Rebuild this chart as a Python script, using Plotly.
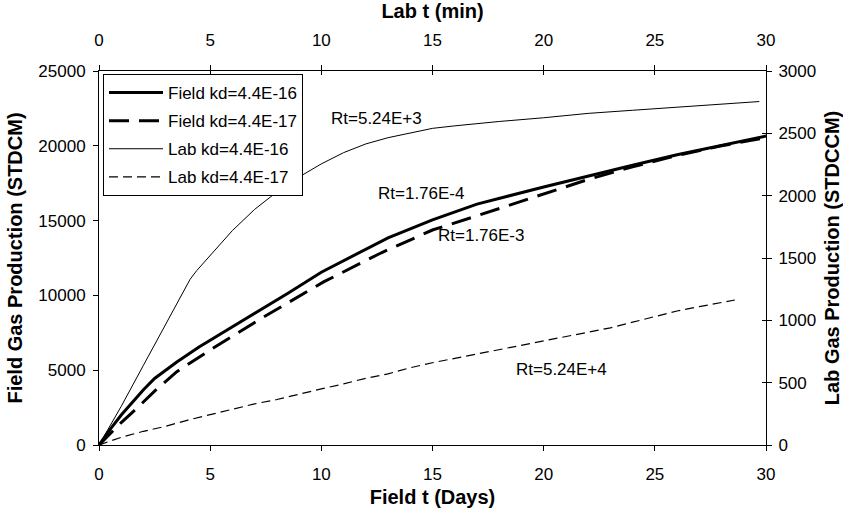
import plotly.graph_objects as go

# Field kd=4.4E-16 (bottom x: Field t days, left y: STDCM)
field1_t = [0, 0.5, 1, 1.5, 2, 2.5, 3.5, 4.5, 5.4, 7, 8.5, 10, 11.9, 13, 15, 17, 20, 22, 24, 26, 28, 30]
field1_v = [0, 1050, 2000, 2850, 3700, 4450, 5550, 6550, 7350, 8800, 10150, 11550, 13000, 13850, 15050, 16100, 17250, 18000, 18700, 19400, 20050, 20650]

# Field kd=4.4E-17
field2_t = [0, 0.5, 1, 1.7, 2.5, 3.5, 5.1, 7.4, 10.1, 12.7, 15, 17.1, 20, 22, 24, 26, 28, 30]
field2_v = [0, 750, 1500, 2450, 3600, 4900, 6450, 8550, 10900, 12850, 14370, 15370, 16800, 17750, 18600, 19350, 20000, 20550]

# Lab kd=4.4E-16 (top x: Lab t min, right y: STDCCM)
lab1_t = [0, 1, 2, 3, 3.6, 4.1, 4.4, 5, 6, 7, 8, 9, 10, 11, 12, 13, 14, 15, 16, 17, 18, 20, 22, 24, 26, 28, 29.7]
lab1_v = [0, 310, 640, 970, 1170, 1330, 1400, 1520, 1720, 1890, 2030, 2150, 2255, 2345, 2415, 2465, 2505, 2540, 2560, 2580, 2595, 2625, 2660, 2685, 2710, 2735, 2755]

# Lab kd=4.4E-17
lab2_t = [0, 1, 2, 3, 4, 5, 6, 7, 8, 9, 10, 11, 12, 13, 14, 15, 16, 17, 18, 19, 20, 21, 22, 23, 24, 25, 26, 27, 28, 28.6]
lab2_v = [0, 62, 110, 150, 200, 245, 285, 330, 365, 410, 450, 490, 535, 570, 620, 660, 695, 725, 765, 800, 835, 870, 900, 940, 985, 1030, 1075, 1110, 1140, 1163]

# Annotations (x in Field days, y in Field STDCM)
ann_text = ["Rt=5.24E+3", "Rt=1.76E-4", "Rt=1.76E-3", "Rt=5.24E+4"]
ann_x = [12.5, 14.5, 17.2, 20.8]
ann_y = [21858, 16845, 14037, 5080]

FONT = "Liberation Sans, Arial, sans-serif"
FS = 17

fig = go.Figure()
fig.add_trace(go.Scatter(x=field1_t, y=field1_v, mode="lines", name="Field kd=4.4E-16",
                         line=dict(color="black", width=3), xaxis="x", yaxis="y", legendgroup="a"))
fig.add_trace(go.Scatter(x=field2_t, y=field2_v, mode="lines", name="Field kd=4.4E-17",
                         line=dict(color="black", width=3, dash="20px,10px"), xaxis="x", yaxis="y", legendgroup="b"))
fig.add_trace(go.Scatter(x=lab1_t, y=lab1_v, mode="lines", name="Lab kd=4.4E-16",
                         line=dict(color="black", width=1), xaxis="x2", yaxis="y2", legendgroup="c"))
fig.add_trace(go.Scatter(x=lab2_t, y=lab2_v, mode="lines", name="Lab kd=4.4E-17",
                         line=dict(color="black", width=1.2, dash="9px,5px"), xaxis="x2", yaxis="y2", legendgroup="d"))
# helper trace for inside tick overlays
fig.add_trace(go.Scatter(x=[None], y=[None], xaxis="x3", yaxis="y3", showlegend=False, hoverinfo="skip"))

for t, x, y in zip(ann_text, ann_x, ann_y):
    fig.add_annotation(text=t, x=x, y=y, xref="x", yref="y", showarrow=False,
                       font=dict(family=FONT, size=FS, color="black"))

def ax(**kw):
    d = dict(showgrid=False, zeroline=False, showline=True, linecolor="black", linewidth=1,
             ticks="outside", ticklen=5, tickwidth=1, tickcolor="black", automargin=False,
             tickfont=dict(family=FONT, size=FS, color="black"))
    d.update(kw)
    return d

fig.update_layout(
    width=843, height=515,
    margin=dict(l=99, r=77, t=71, b=70),
    paper_bgcolor="white", plot_bgcolor="white",
    font=dict(family=FONT, size=FS, color="black"),
    xaxis=ax(range=[0, 30], dtick=5, ticklabelstandoff=9,
             title=dict(text="<b>Field t (Days)</b>", standoff=6)),
    yaxis=ax(range=[0, 25000], dtick=5000, tickformat="d", ticklabelstandoff=4,
             title=dict(text="<b>Field Gas Production (STDCM)</b>", standoff=10)),
    xaxis2=ax(range=[0, 30], dtick=5, overlaying="x", side="top", anchor="y", ticklabelstandoff=12,
              title=dict(text="<b>Lab t (min)</b>", standoff=10)),
    yaxis2=ax(range=[0, 3000], dtick=500, overlaying="y", side="right", anchor="x", tickformat="d",
              ticklabelstandoff=3, title=dict(text="<b>Lab Gas Production (STDCCM)</b>", standoff=14)),
    xaxis3=dict(range=[0, 30], dtick=5, overlaying="x", side="top", anchor="y3", showline=False,
                showgrid=False, zeroline=False, ticks="inside", ticklen=4, tickcolor="black",
                showticklabels=False, automargin=False),
    yaxis3=dict(range=[0, 3000], dtick=500, overlaying="y", side="right", anchor="x3", showline=False,
                showgrid=False, zeroline=False, ticks="inside", ticklen=4, tickcolor="black",
                showticklabels=False, automargin=False),
    showlegend=True,
    legend=dict(x=0.006, y=0.992, xanchor="left", yanchor="top", bgcolor="white",
                bordercolor="black", borderwidth=1, font=dict(family=FONT, size=FS, color="black"),
                itemwidth=54, tracegroupgap=3, traceorder="grouped"),
)

fig.write_html("out.html")
